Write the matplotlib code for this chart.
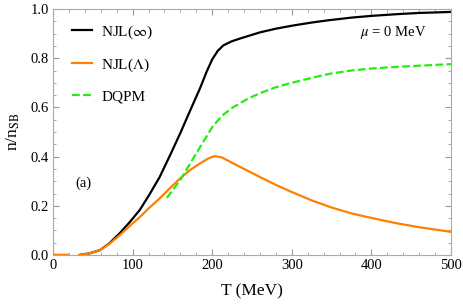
import numpy as np
import matplotlib
matplotlib.use("Agg")
import matplotlib.pyplot as plt
from matplotlib.ticker import MultipleLocator

plt.rcParams['font.family'] = ['Liberation Serif', 'DejaVu Serif']
plt.rcParams['mathtext.fontset'] = 'stix'

# NJL(inf)
t_inf = [0, 18, np.nan, 33, 45, 59, 70, 84, 96, 109, 121, 134, 147, 160, 172, 185,
         193, 200, 207, 214, 224, 235, 248, 260, 280, 300, 325, 348, 375, 400, 432,
         460, 500]
n_inf = [0, 0, np.nan, 0, 0.006, 0.02, 0.045, 0.089, 0.132, 0.183, 0.245, 0.317,
         0.405, 0.496, 0.585, 0.68, 0.745, 0.795, 0.83, 0.852, 0.868, 0.88, 0.893,
         0.905, 0.92, 0.932, 0.945, 0.955, 0.965, 0.972, 0.979, 0.984, 0.988]

# NJL(Lambda)
t_lam = [0, 18, np.nan, 33, 45, 59, 70, 84, 96, 109, 121, 134, 147, 160, 172, 185,
         195, 203, 212, 226, 243, 260, 280, 300, 325, 350, 375, 401, 430, 460, 500]
n_lam = [0, 0, np.nan, 0, 0.006, 0.02, 0.043, 0.081, 0.117, 0.154, 0.192, 0.23,
         0.272, 0.312, 0.345, 0.373, 0.392, 0.402, 0.397, 0.373, 0.345, 0.317, 0.285,
         0.256, 0.222, 0.193, 0.169, 0.15, 0.13, 0.113, 0.094]

# DQPM
t_dq = [143, 160, 172, 185, 201, 213, 226, 243, 260, 280, 300, 325, 348, 375, 400,
        432, 470, 500]
n_dq = [0.232, 0.305, 0.37, 0.44, 0.525, 0.568, 0.60, 0.632, 0.658, 0.682, 0.70,
        0.72, 0.737, 0.75, 0.758, 0.765, 0.771, 0.776]

fig = plt.figure(figsize=(4.63, 3.06), dpi=100)
ax = fig.add_axes([53 / 463, 51 / 306, 398 / 463, 246 / 306])

ax.plot(t_inf, n_inf, color='black', lw=1.6, label=r'NJL($\infty$)')
ax.plot(t_lam, n_lam, color='#ff8000', lw=1.6, label=r'NJL($\Lambda$)')
ax.plot(t_dq, n_dq, color='#22ee11', lw=1.6, ls=(0, (3.5, 1.5)), label='DQPM')

ax.set_xlim(0, 500)
ax.set_ylim(0, 1.0)
ax.xaxis.set_major_locator(MultipleLocator(100))
ax.xaxis.set_minor_locator(MultipleLocator(20))
ax.yaxis.set_major_locator(MultipleLocator(0.2))
ax.yaxis.set_minor_locator(MultipleLocator(0.05))
ax.yaxis.set_major_formatter(plt.FuncFormatter(lambda v, p: f"{v:.1f}"))
ax.tick_params(which='both', direction='in', top=True, right=True, color='#999999',
               labelsize=10.5, pad=3)
ax.tick_params(which='major', length=4)
ax.tick_params(which='minor', length=2.5)
for s in ax.spines.values():
    s.set_color('#aaaaaa')

ax.set_xlabel('T (MeV)', fontsize=12.5, labelpad=8)
ax.set_ylabel(r'n/n$_{\rm SB}$', fontsize=12.5, labelpad=6)

ax.text(0.854, 0.906, r'$\mu$ = 0 MeV', transform=ax.transAxes, fontsize=10.5,
        ha='center', va='center')
ax.text(0.077, 0.29, '(a)', transform=ax.transAxes, fontsize=10.5, ha='center',
        va='center')

ax.legend(loc='upper left', bbox_to_anchor=(0.048, 0.942), frameon=False, fontsize=11,
          handlelength=1.3, labelspacing=1.05, handletextpad=0.6, borderpad=0,
          borderaxespad=0)

fig.savefig('out.png', dpi=100)
